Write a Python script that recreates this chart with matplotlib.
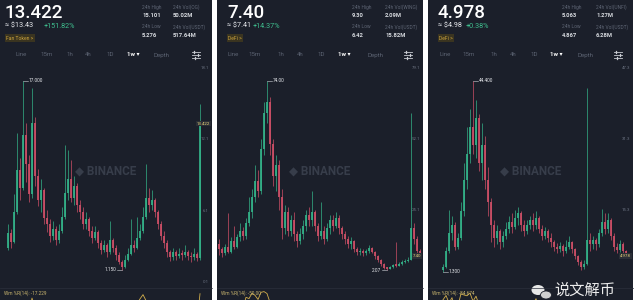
import numpy as np
import matplotlib.pyplot as plt
from matplotlib.patches import Rectangle, Ellipse
from matplotlib.lines import Line2D

plt.rcParams['font.family'] = ['Roboto', 'DejaVu Sans']

W, H = 640, 300
BG = '#1b1f2a'
GREEN = '#34b389'
RED = '#cf5067'
LABEL = '#5e6574'
TEXT = '#e6e8ec'
WRLINE = '#d2ae4c'

TABS = ['Line', '15m', '1h', '4h', '1D', '1w \u25be', 'Depth']

# OG/USDT weekly candles
og_open0 = 3.0
og_close = [4.2, 3.5, 6.0, 9.5, 8.0, 12.5, 10.0, 7.5, 13.5, 9.0,
            7.0, 7.8, 5.5, 5.0, 4.0, 4.6, 3.6, 4.4, 5.6, 7.6,
            8.8, 7.2, 8.2, 6.6, 6.0, 5.0, 5.4, 4.4, 3.8, 4.3,
            3.4, 2.8, 3.2, 2.6, 3.6, 3.0, 2.4, 1.8, 1.4, 2.0,
            2.5, 3.2, 3.0, 3.8, 4.4, 5.6, 7.2, 6.6, 7.0, 6.0,
            5.0, 4.0, 3.4, 2.6, 2.2, 2.6, 2.3, 2.5, 2.4, 2.6,
            2.3, 2.2, 2.5, 2.1, 13.422]
og_high = [5.0, 4.6, 7.5, 12.6, 10.5, 17.0, 13.5, 10.8, 16.4, 14.0,
           9.6, 8.8, 8.0, 6.2, 5.4, 5.2, 4.8, 5.0, 6.4, 11.6,
           11.2, 10.4, 9.0, 8.4, 7.0, 6.4, 6.0, 5.6, 4.8, 4.8,
           4.5, 3.6, 3.6, 3.4, 5.2, 3.8, 3.2, 2.6, 2.0, 2.4,
           3.0, 5.4, 3.6, 5.6, 5.0, 6.4, 10.0, 8.0, 7.8, 7.2,
           6.2, 5.2, 4.4, 3.6, 2.8, 3.0, 2.8, 3.0, 2.8, 3.2,
           2.8, 2.6, 3.0, 2.6, 15.101]
og_low = [2.8, 3.0, 3.4, 5.8, 7.0, 7.8, 8.5, 6.8, 7.2, 8.2,
          6.5, 6.0, 5.0, 4.3, 3.5, 3.6, 3.2, 3.4, 4.2, 5.4,
          7.0, 6.8, 6.6, 6.0, 5.4, 4.6, 4.6, 4.0, 3.4, 3.6,
          3.0, 2.5, 2.6, 2.2, 2.5, 2.6, 2.0, 1.6, 1.15, 1.3,
          1.9, 2.4, 2.6, 2.9, 3.6, 4.2, 5.4, 6.0, 6.2, 5.6,
          4.6, 3.6, 3.0, 2.2, 1.9, 2.0, 2.0, 2.1, 2.0, 2.2,
          2.0, 1.8, 2.0, 1.9, 2.0]
og_ticks = [0.1, 6.1, 12.1, 18.1]
og_stats = [('24h High', '15.101'), ('24h Vol(OG)', '50.02M'),
            ('24h Low', '5.276'), ('24h Vol(USDT)', '517.64M')]

# WING/USDT weekly candles
wing_open0 = 12.0
wing_close = [10, 8.5, 11, 9, 13, 11, 14.5, 17, 15, 20,
              24, 30, 36, 32, 48, 62, 66, 50, 38, 42,
              30, 18, 24, 17, 21, 16, 13, 16, 19, 23,
              21, 24, 19, 15, 17, 14, 18, 21, 19, 22,
              18, 16, 14, 12, 13, 10, 9, 9.5, 8.5, 9.2,
              10.5, 9, 7.5, 6, 4.5, 3, 2.6, 3.2, 4, 3.8,
              4.6, 5.2, 5.6, 6, 18, 14, 9.5, 7.40]
wing_high = [14, 11, 12, 23.8, 14.5, 19, 16, 20, 18.5, 22,
             30, 33, 42, 40, 52, 66, 74, 68, 52, 46,
             44, 33, 27, 26, 23, 24, 17, 18, 21, 25,
             26, 32, 25, 20, 28, 19, 20, 23, 23, 24,
             23, 19, 17, 15, 14.5, 13.5, 11, 10.5, 10, 10,
             11.5, 11, 9.5, 7.8, 6.2, 4.8, 3.4, 3.8, 4.6, 12.8,
             5.2, 6, 6.4, 7, 62, 20, 15, 10]
wing_low = [8, 7, 8, 8.5, 8.5, 10, 10.5, 13, 13.5, 14,
            19, 22, 28, 30, 31, 46, 58, 46, 34, 32,
            25, 14, 16, 15, 15, 13, 11, 12, 14, 17,
            19, 19, 17, 13, 14, 12, 13, 16, 17, 18,
            16, 14, 12, 10.5, 10, 9, 8, 8, 7.5, 7.8,
            8.6, 8.5, 6.5, 5, 3.8, 2.5, 2.07, 2.5, 3, 3.2,
            3.6, 4.2, 4.8, 5, 5.8, 12, 8.5, 7]
wing_ticks = [25.1, 52.1, 79.1]
wing_stats = [('24h High', '9.30'), ('24h Vol(WING)', '2.09M'),
              ('24h Low', '6.42'), ('24h Vol(USDT)', '15.82M')]

# UNFI/USDT weekly candles
unfi_open0 = 1.8
unfi_close = [2.5, 6, 10, 12, 7, 9, 15, 22, 28, 34,
              30, 36, 26, 30, 22, 17, 12, 9, 10.5, 8,
              9.5, 11, 12.5, 11.5, 13.5, 14.5, 12, 10.5, 12, 13,
              12, 13.5, 11, 9.5, 10.5, 9, 8, 7, 6.5, 7.2,
              6, 7, 8, 6.5, 5, 3.5, 2.5, 3.2, 8.5, 7.5,
              8.5, 7.5, 10, 12.5, 11, 13, 9.5, 7, 6.2, 7.5,
              6, 4.978]
unfi_high = [3, 7, 15.3, 14, 12.5, 10, 17, 26, 34, 38,
             44.4, 40, 37, 35, 32, 25, 18, 13, 12, 11,
             10.5, 12.5, 14, 14.5, 15.3, 16, 15, 13, 13, 14,
             14.5, 15, 14, 12, 11.5, 11, 10, 8.5, 7.8, 8,
             7.5, 8.4, 9.5, 8.2, 6.8, 5.2, 4, 4, 42.8, 10,
             9.5, 9, 11, 15.5, 14.5, 14.6, 13.5, 10, 7.8, 8.6,
             8, 6.2]
unfi_low = [1.3, 2.2, 5.5, 8.5, 6.2, 6.5, 8.5, 14, 20, 26,
            28, 27, 24, 22, 20, 14, 8, 7, 7.5, 6.5,
            7, 8.8, 10, 10.2, 11, 12, 10.5, 9.5, 9.8, 11,
            10.5, 11, 10, 8.5, 8.8, 8, 7, 6, 5.5, 5.8,
            5, 5.6, 6.5, 5.5, 4.2, 2.8, 1.8, 2, 2.8, 6,
            6.5, 6.2, 7, 9.5, 9.8, 10, 8.5, 6, 5.5, 5.8,
            5.2, 4.6]
unfi_ticks = [15.3, 31.3, 47.3]
unfi_stats = [('24h High', '5.063'), ('24h Vol(UNFI)', '1.27M'),
              ('24h Low', '4.867'), ('24h Vol(USDT)', '6.28M')]

panels = [
    dict(left=0, right=212, x0=8, ylim=(-0.31, 18.51), fmt='{:.3f}', low_side='left',
         open0=og_open0, close=og_close, high=og_high, low=og_low, ticks=og_ticks,
         stats=og_stats, price='13.422', approx='\u2248 $13.43', change='+151.82%',
         tag='Fan Token >', wr='Wm %R(14): -17.229', tag_fmt='{:.3f}',
         hx=5, chg_x=44, col1=142, col2=173, tabs=[15, 40, 66, 85, 106, 127, 153], icon=196),
    dict(left=217, right=423, x0=219, ylim=(-4.33, 80.84), fmt='{:.2f}', low_side='left',
         open0=wing_open0, close=wing_close, high=wing_high, low=wing_low, ticks=wing_ticks,
         stats=wing_stats, price='7.40', approx='\u2248 $7.41', change='+14.37%',
         tag='DeFi >', wr='Wm %R(14): -50.00', tag_fmt='{:.2f}',
         hx=227, chg_x=253, col1=352, col2=385, tabs=[228, 248, 277, 297, 317, 338, 367], icon=408),
    dict(left=428, right=633, x0=443, ylim=(-2.10, 48.46), fmt='{:.3f}', low_side='right',
         open0=unfi_open0, close=unfi_close, high=unfi_high, low=unfi_low, ticks=unfi_ticks,
         stats=unfi_stats, price='4.978', approx='\u2248 $4.98', change='+0.38%',
         tag='DeFi >', wr='Wm %R(14): -84.674', tag_fmt='{:.3f}',
         hx=438, chg_x=466, col1=562, col2=596, tabs=[440, 462, 490, 510, 530, 550, 577], icon=618),
]

fig = plt.figure(figsize=(6.4, 3.0), dpi=100, facecolor='white')


def ftext(x, y, s, **kw):
    kw.setdefault('va', 'center')
    fig.text(x / W, 1 - y / H, s, **kw)


def fline(xs, ys, **kw):
    fig.add_artist(Line2D([x / W for x in xs], [1 - y / H for y in ys],
                          transform=fig.transFigure, **kw))


def williams_r(high, low, close, n=14):
    out = []
    for i in range(len(close)):
        hh = max(high[max(0, i - n + 1):i + 1])
        ll = min(low[max(0, i - n + 1):i + 1])
        out.append((hh - close[i]) / (hh - ll) * -100)
    return np.array(out)


for p in panels:
    L, R = p['left'], p['right']
    fig.add_artist(Rectangle((L / W, 0), (R - L) / W, 1, transform=fig.transFigure,
                             facecolor=BG, edgecolor='none', zorder=0))

    # header
    ftext(p['hx'], 12.5, p['price'], fontsize=13.5, weight='medium', color='white')
    ftext(p['hx'], 26, p['approx'], fontsize=5.2, color=TEXT)
    ftext(p['chg_x'], 26, p['change'], fontsize=5.2, color='#3fbf8f')
    ftext(p['hx'] + 1, 38, p['tag'], fontsize=3.6, color='#caa23c',
          bbox=dict(boxstyle='square,pad=0.25', facecolor='#3a3420', edgecolor='none'))
    for k, (lab, val) in enumerate(p['stats']):
        cx = p['col1'] if k % 2 == 0 else p['col2']
        ry = 7 if k < 2 else 27
        ftext(cx, ry, lab, fontsize=3.5, color=LABEL)
        ftext(cx, ry + 8.5, val, fontsize=4.2, weight='bold', color='#d6d9de')
    for tx, lab in zip(p['tabs'], TABS):
        if lab.startswith('1w'):
            ftext(tx, 55, lab, fontsize=4.4, weight='bold', color='white')
        else:
            ftext(tx, 55, lab, fontsize=4.4, color='#5c6372')
    ic = p['icon']
    for yy, kx in [(52, 2), (55, 6), (58, 3)]:
        fline([ic - 4, ic + 4], [yy, yy], color='#c9ccd2', lw=0.6)
        fline([ic - 4 + kx, ic - 4 + kx], [yy - 1.3, yy + 1.3], color='#c9ccd2', lw=0.9)

    # candles
    ax = fig.add_axes([L / W, 1 - 287 / H, (R - L) / W, (287 - 63) / H])
    ax.set_xlim(L, R)
    ax.set_ylim(*p['ylim'])
    ax.axis('off')

    close = np.array(p['close'], dtype=float)
    high = np.array(p['high'], dtype=float)
    low = np.array(p['low'], dtype=float)
    opens = np.r_[p['open0'], close[:-1]]
    xs = p['x0'] + 3 * np.arange(len(close))
    cols = np.where(close >= opens, GREEN, RED)
    span = p['ylim'][1] - p['ylim'][0]
    ax.vlines(xs, low, high, colors=cols, linewidth=0.55, alpha=0.9)
    ax.bar(xs, np.maximum(np.abs(close - opens), span * 0.006),
           bottom=np.minimum(opens, close), width=2.2, color=cols, linewidth=0, alpha=0.88)

    ax.text(0.5, 0.52, '\u25c6 BINANCE', transform=ax.transAxes, ha='center', va='center',
            fontsize=8.5, weight='bold', color='#373d4a')

    for t in p['ticks']:
        ax.text(R - 3, t, f'{t:.1f}', ha='right', va='center', fontsize=3.2, color='#6a7180')

    # all-time high / low markers
    ih = int(np.argmax(high))
    ax.plot([xs[ih], xs[ih] + 5], [high[ih], high[ih]], color='#cfd3da', lw=0.4)
    ax.text(xs[ih] + 6, high[ih], p['fmt'].format(high[ih]), fontsize=3.4,
            va='center', color=TEXT)
    il = int(np.argmin(low))
    if p['low_side'] == 'left':
        ax.plot([xs[il] - 5, xs[il]], [low[il], low[il]], color='#cfd3da', lw=0.4)
        ax.text(xs[il] - 6, low[il], p['fmt'].format(low[il]), fontsize=3.4,
                va='center', ha='right', color=TEXT)
    else:
        ax.plot([xs[il], xs[il] + 5], [low[il], low[il]], color='#cfd3da', lw=0.4)
        ax.text(xs[il] + 6, low[il], p['fmt'].format(low[il]), fontsize=3.4,
                va='center', color=TEXT)

    # last price tag
    ax.text(R - 2, close[-1], p['tag_fmt'].format(close[-1]), ha='right', va='center',
            fontsize=3.2, color='#e8d27a',
            bbox=dict(boxstyle='square,pad=0.2', facecolor='#2a2e36', edgecolor='none'))

    # Williams %R strip
    fline([L, R], [287.5, 287.5], color='#2b303c', lw=0.5)
    wax = fig.add_axes([L / W, 0, (R - L) / W, 12 / H])
    wax.set_xlim(L, R)
    wax.set_ylim(-30, 3)
    wax.axis('off')
    wax.plot(xs, williams_r(high, low, close), color=WRLINE, lw=0.6)
    ftext(L + 4, 293.5, p['wr'], fontsize=3.4, color='#c8b46e')

# account mark in the corner
fig.add_artist(Ellipse((538 / W, 1 - 290 / H), 13 / W, 10 / H, transform=fig.transFigure,
                       facecolor='#e8e8e8', edgecolor='none'))
fig.add_artist(Ellipse((546 / W, 1 - 295 / H), 11 / W, 8 / H, transform=fig.transFigure,
                       facecolor='#d0d0d0', edgecolor=BG, lw=0.6))
ftext(554, 290.5, '说文解币', fontsize=11, color='#ececec',
      family=['Noto Sans CJK SC', 'DejaVu Sans'])

fig.savefig('out.png', dpi=100, facecolor='white')
